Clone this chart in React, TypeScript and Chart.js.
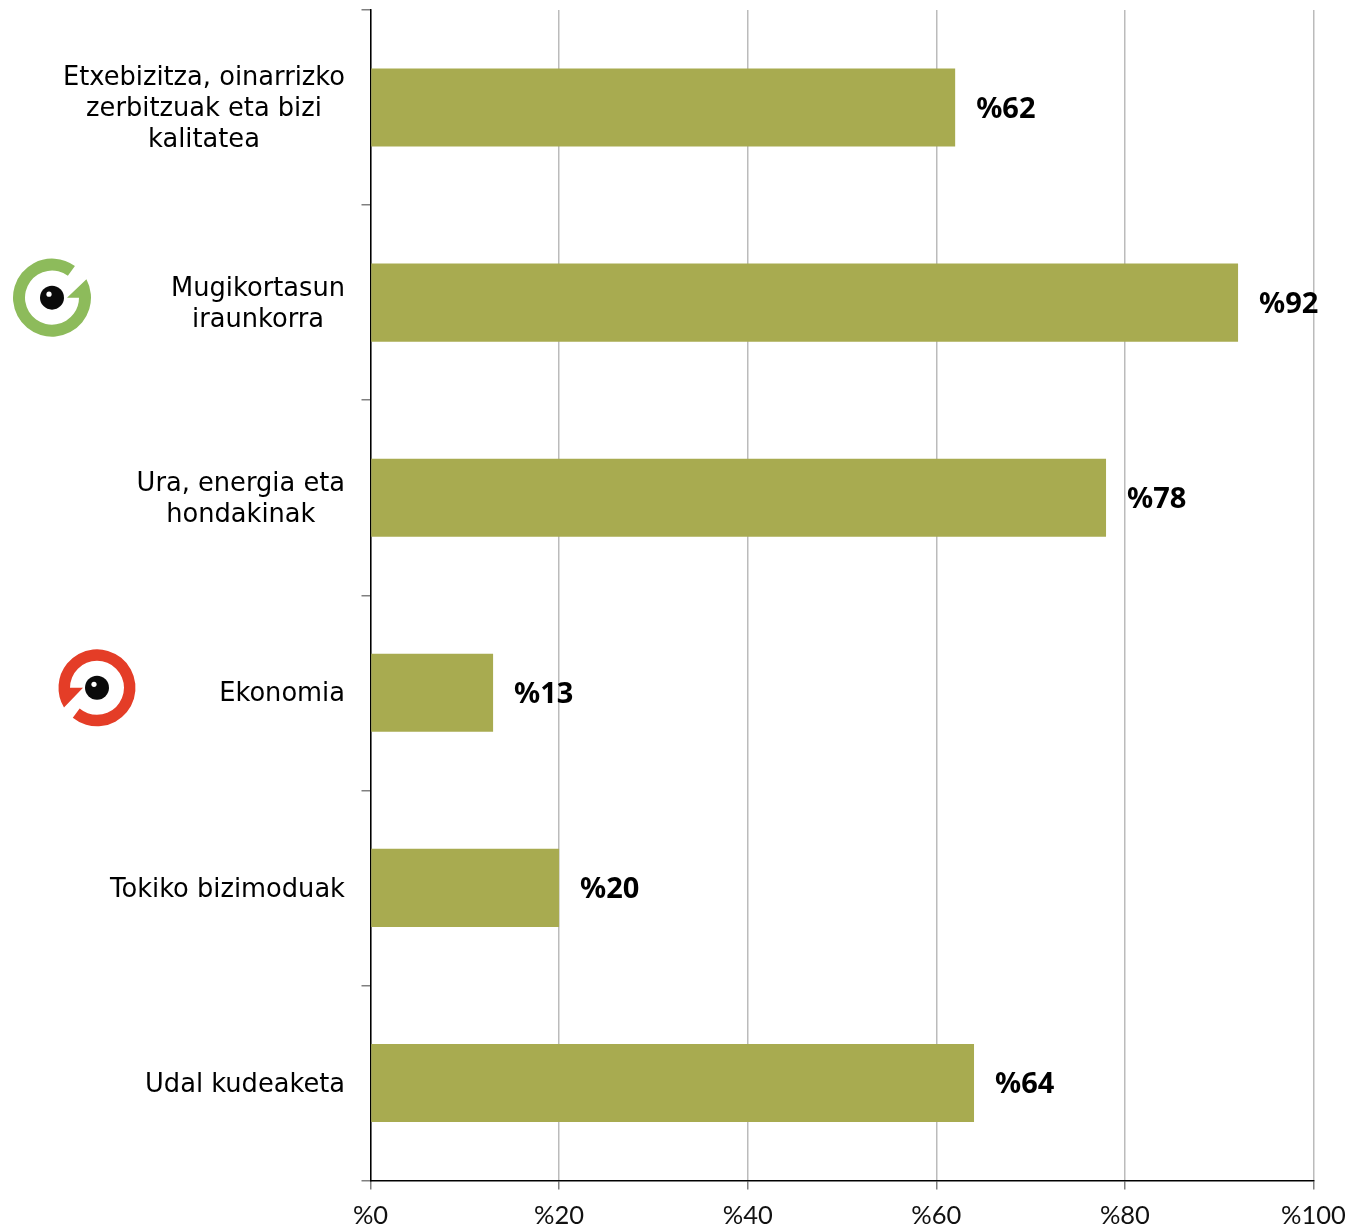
import React, { useEffect, useRef } from "react";
import { Chart, registerables } from "chart.js";

Chart.register(...registerables);

const categories: string[][] = [
  ["Etxebizitza, oinarrizko", "zerbitzuak eta bizi", "kalitatea"],
  ["Mugikortasun", "iraunkorra"],
  ["Ura, energia eta", "hondakinak"],
  ["Ekonomia"],
  ["Tokiko bizimoduak"],
  ["Udal kudeaketa"],
];
const values = [62, 92, 78, 13, 20, 64];
const axisMax = 100;
const axisStep = 20;

const BAR = "#A8AB50";
const LABEL_FONT = '25.7px "DejaVu Sans"';
const VALUE_FONT = 'bold 29px "Noto Sans"';

function greenLogo(ctx: CanvasRenderingContext2D, cx: number, cy: number) {
  const d = Math.PI / 180;
  ctx.fillStyle = "#8DBB5B";
  ctx.beginPath();
  ctx.arc(cx, cy, 39, -28 * d, 306 * d, false);
  ctx.arc(cx, cy, 27, 306 * d, 0, true);
  ctx.lineTo(cx + 15, cy);
  ctx.closePath();
  ctx.fill();
  eye(ctx, cx, cy, 12);
}

function redLogo(ctx: CanvasRenderingContext2D, cx: number, cy: number) {
  const d = Math.PI / 180;
  ctx.fillStyle = "#E43D27";
  ctx.beginPath();
  ctx.arc(cx, cy, 38.5, 129 * d, -211 * d, true);
  ctx.lineTo(cx - 14, cy);
  ctx.lineTo(cx - 27, cy);
  ctx.arc(cx, cy, 27, 180 * d, 490 * d, false);
  ctx.closePath();
  ctx.fill();
  eye(ctx, cx, cy, 12);
}

function eye(ctx: CanvasRenderingContext2D, cx: number, cy: number, r: number) {
  ctx.fillStyle = "#0a0a0a";
  ctx.beginPath();
  ctx.arc(cx, cy, r, 0, Math.PI * 2);
  ctx.fill();
  ctx.fillStyle = "#ffffff";
  ctx.beginPath();
  ctx.arc(cx - 3, cy - 3.5, 2.6, 0, Math.PI * 2);
  ctx.fill();
}

const overlay = {
  id: "overlay",
  afterDatasetsDraw(chart: any) {
    const { ctx, scales } = chart;
    const y = scales.y;
    const x = scales.x;
    ctx.save();
    // category labels: centred lines inside a right-aligned block
    ctx.font = LABEL_FONT;
    ctx.fillStyle = "#000";
    ctx.textBaseline = "middle";
    ctx.textAlign = "center";
    const lh = 31;
    categories.forEach((lines, i) => {
      const w = Math.max(...lines.map((l) => ctx.measureText(l).width));
      const cxx = 345 - w / 2;
      const top = y.getPixelForValue(i) - ((lines.length - 1) * lh) / 2 + 2;
      lines.forEach((l, j) => ctx.fillText(l, cxx, top + j * lh));
    });
    // value labels
    ctx.font = VALUE_FONT;
    ctx.textAlign = "left";
    values.forEach((v, i) => {
      ctx.fillText(`%${v}`, x.getPixelForValue(v) + 21, y.getPixelForValue(i) + 2);
    });
    greenLogo(ctx, 52, y.getPixelForValue(1) - 5);
    redLogo(ctx, 97, y.getPixelForValue(3) - 5);
    ctx.restore();
  },
};

export default function App() {
  const ref = useRef<HTMLCanvasElement>(null);
  useEffect(() => {
    const chart = new Chart(ref.current!, {
      type: "bar",
      data: {
        labels: categories.map((c) => c.join(" ")),
        datasets: [
          {
            data: values,
            backgroundColor: BAR,
            categoryPercentage: 0.4,
            barPercentage: 1,
          },
        ],
      },
      options: {
        indexAxis: "y",
        animation: false,
        responsive: false,
        layout: { padding: { top: 10, right: 39.5, left: 0, bottom: 0 } },
        plugins: { legend: { display: false }, tooltip: { enabled: false } },
        scales: {
          x: {
            min: 0,
            max: axisMax,
            position: "bottom",
            afterFit(s: any) {
              s.height = 50.5;
              s.paddingLeft = 0;
              s.paddingRight = 0;
            },
            border: { color: "#000", width: 1.5 },
            grid: { color: "#bbbbbb", lineWidth: 1.5, tickLength: 9, tickColor: "#808080" },
            ticks: {
              stepSize: axisStep,
              padding: 11,
              maxRotation: 0,
              autoSkip: false,
              color: "#111",
              font: { family: "Lato", size: 25.5 },
              callback: (v: any) => `%${v}`,
            },
          },
          y: {
            type: "category",
            afterFit(s: any) {
              s.width = 370.5;
            },
            border: { color: "#000", width: 1.5 },
            grid: {
              drawOnChartArea: false,
              offset: true,
              tickLength: 9,
              tickColor: "#808080",
              lineWidth: 1.5,
            },
            ticks: { display: false },
          },
        },
      },
      plugins: [overlay],
    } as any);
    return () => chart.destroy();
  }, []);
  return (
    <canvas
      ref={ref}
      width={1353}
      height={1231}
      style={{ position: "fixed", left: 0, top: 0, width: 1353, height: 1231, background: "#fff" }}
    />
  );
}
